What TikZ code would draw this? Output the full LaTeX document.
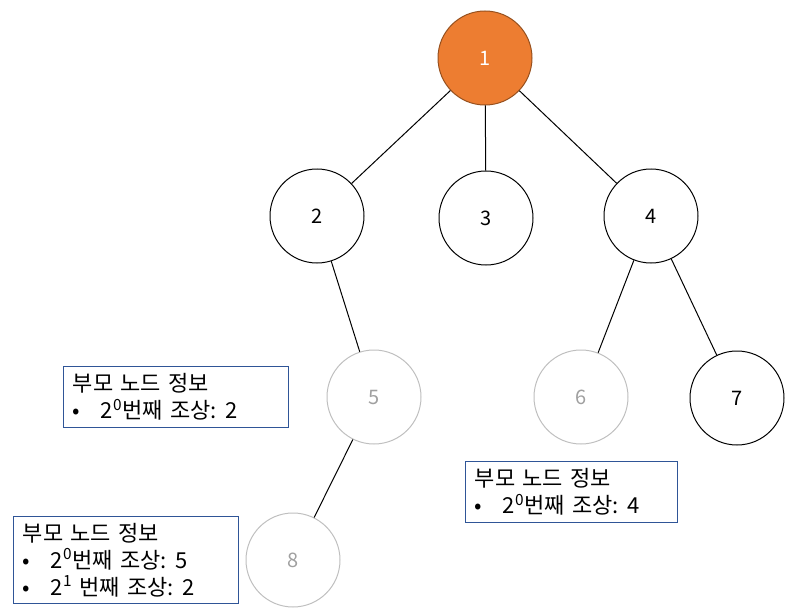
\documentclass[tikz,border=0pt]{standalone}
\usepackage{fontspec}
\setmainfont{Noto Sans CJK KR}
\usetikzlibrary{positioning}
\usepackage{xcolor}
\definecolor{TreeOrange}{RGB}{237,125,49}
\definecolor{TreeOrangeDark}{RGB}{150,80,30}
\definecolor{TreeGray}{RGB}{191,191,191}
\definecolor{TreeGrayText}{RGB}{160,160,160}
\definecolor{InfoBlue}{RGB}{47,85,151}

\begin{document}
\begin{tikzpicture}[
x=0.75pt, y=-0.75pt,
vertex/.style={
circle,
draw=black,
line width=0.75pt,
minimum size=70.5pt,
inner sep=0pt,
font=\fontsize{15}{18}\selectfont
},
root/.style={
vertex,
draw=TreeOrangeDark,
fill=TreeOrange,
text=white
},
faded/.style={
vertex,
draw=TreeGray,
text=TreeGrayText
},
edge/.style={
draw=black,
line width=0.75pt
},
info/.style={
rectangle,
draw=InfoBlue,
line width=0.75pt,
anchor=north west,
align=left,
inner xsep=7pt,
inner ysep=0pt,
font=\fontsize{16.5}{20.25}\selectfont
}
]

\useasboundingbox (0,0) rectangle (807,610);

\node[root] (n1) at (485,58) {1};
\node[vertex] (n2) at (317,216) {2};
\node[vertex] (n3) at (486,218) {3};
\node[vertex] (n4) at (651,216) {4};
\node[faded] (n5) at (374,397) {5};
\node[faded] (n6) at (581,397) {6};
\node[vertex] (n7) at (737,398) {7};
\node[faded] (n8) at (293,560) {8};

\draw[edge] (n1)--(n2);
\draw[edge] (n1)--(n3);
\draw[edge] (n1)--(n4);
\draw[edge] (n2)--(n5);
\draw[edge] (n5)--(n8);
\draw[edge] (n4)--(n6);
\draw[edge] (n4)--(n7);

\node[info, minimum width=168.75pt, minimum height=45.75pt, text width=154.75pt] (info5) at (63,366)
{부모 노드 정보\\\makebox[21pt][l]{\textbullet}2\textsuperscript{0}번째 조상:\kern-0.12em{} 2};
\node[info, minimum width=159pt, minimum height=45.75pt, text width=145pt] (info6) at (465,461)
{부모 노드 정보\\\makebox[21pt][l]{\textbullet}2\textsuperscript{0}번째 조상:\kern-0.12em{} 4};
\node[info, minimum width=168.75pt, minimum height=65.25pt, text width=154.75pt] (info8) at (13,516)
{부모 노드 정보\\\makebox[21pt][l]{\textbullet}2\textsuperscript{0}번째 조상:\kern-0.12em{} 5\\\makebox[21pt][l]{\textbullet}2\textsuperscript{1} 번째 조상:\kern-0.12em{} 2};

\end{tikzpicture}
\end{document}
